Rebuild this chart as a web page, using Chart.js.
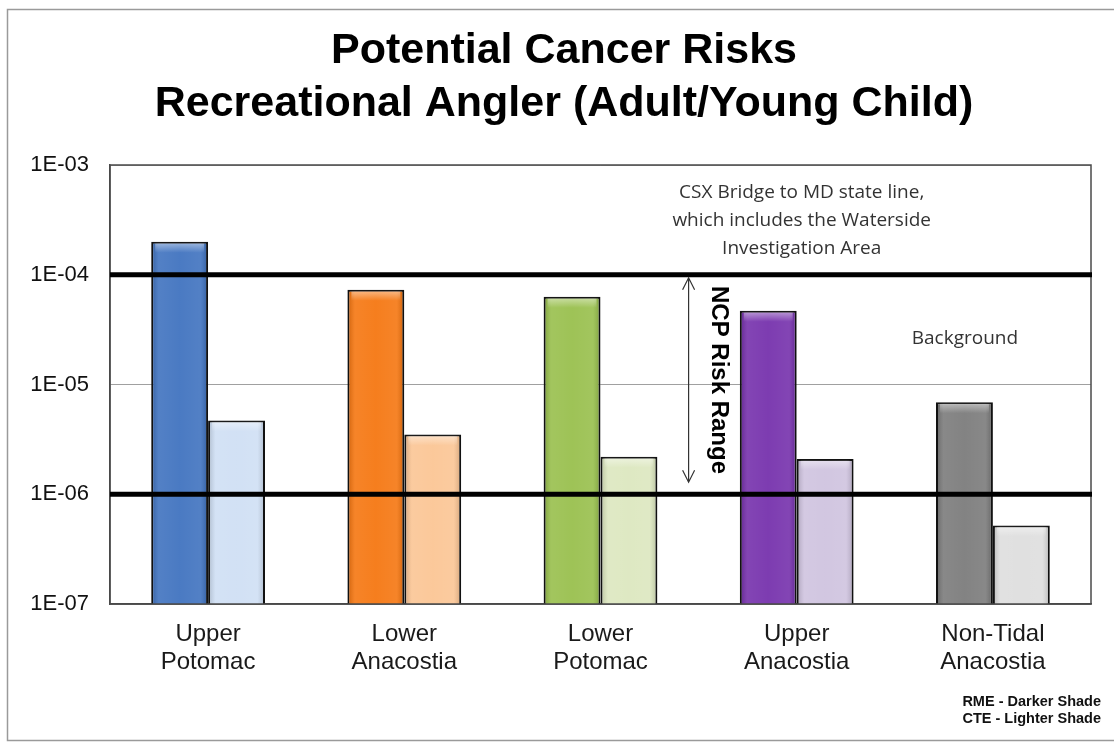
<!DOCTYPE html>
<html lang="en">
<head>
    <meta charset="UTF-8">
    <title>Potential Cancer Risks</title>
    <style>
        body { margin: 0; background: #fff; }
        #wrap { width: 1114px; height: 742px; }
    </style>
</head>
<body>
    <div id="wrap">
        <canvas id="riskChart" width="1114" height="742"></canvas>
    </div>

    <script src="https://cdn.jsdelivr.net/npm/chart.js"></script>

    <script>
        // Areas and risk estimates
        const areas = [
            ['Upper', 'Potomac'],
            ['Lower', 'Anacostia'],
            ['Lower', 'Potomac'],
            ['Upper', 'Anacostia'],
            ['Non-Tidal', 'Anacostia']
        ];
        const rmeRisk = [2.0e-4, 7.3e-5, 6.3e-5, 4.7e-5, 6.9e-6];   // darker shade
        const cteRisk = [4.7e-6, 3.5e-6, 2.2e-6, 2.1e-6, 5.2e-7];   // lighter shade

        const rmeColors = ['#3f72bf', '#f57610', '#98bf4c', '#7530ac', '#7b7b7b'];
        const cteColors = ['#cfdff4', '#fbc594', '#dce7bf', '#cfc3df', '#dedede'];

        // log axis, decades only
        const yTickValues = [1e-7, 1e-6, 1e-5, 1e-4, 1e-3];
        const yTickLabels = ['1E-07', '1E-06', '1E-05', '1E-04', '1E-03'];

        // NCP risk range limits
        const ncpUpper = 1e-4;
        const ncpLower = 1e-6;

        const titleLines = ['Potential Cancer Risks', 'Recreational Angler (Adult/Young Child)'];
        const csxNote = ['CSX Bridge to MD state line,', 'which includes the Waterside', 'Investigation Area'];
        const shadeNote = ['RME - Darker Shade', 'CTE - Lighter Shade'];

        // frame, title, plot border, risk range lines and notes
        const decorations = {
            id: 'decorations',
            beforeDraw(chart) {
                const ctx = chart.ctx;
                ctx.save();
                ctx.fillStyle = '#fff';
                ctx.fillRect(0, 0, chart.width, chart.height);
                ctx.strokeStyle = '#9a9a9a';
                ctx.lineWidth = 1.5;
                ctx.strokeRect(7.5, 9.5, chart.width + 20, chart.height - 11);

                ctx.fillStyle = '#000';
                ctx.font = 'bold 43px "Liberation Sans", Arial, sans-serif';
                ctx.textAlign = 'center';
                ctx.textBaseline = 'middle';
                titleLines.forEach((line, i) => ctx.fillText(line, 564, 51 + i * 53));
                ctx.restore();
            },
            afterDatasetsDraw(chart) {
                const ctx = chart.ctx;
                const area = chart.chartArea;
                const x = chart.scales.x;
                const y = chart.scales.y;

                // bevel shine on each bar
                ctx.save();
                chart.data.datasets.forEach((ds, i) => {
                    chart.getDatasetMeta(i).data.forEach(bar => {
                        const left = bar.x - bar.width / 2 + 1;
                        const w = bar.width - 2;
                        const top = bar.y + 1;
                        const h = bar.base - bar.y - 1;
                        const g = ctx.createLinearGradient(left, 0, left + w, 0);
                        g.addColorStop(0, 'rgba(0,0,0,0.14)');
                        g.addColorStop(0.12, 'rgba(255,255,255,0.10)');
                        g.addColorStop(0.5, 'rgba(255,255,255,0.06)');
                        g.addColorStop(0.88, 'rgba(255,255,255,0.10)');
                        g.addColorStop(1, 'rgba(0,0,0,0.14)');
                        ctx.fillStyle = g;
                        ctx.fillRect(left, top, w, h);
                        const cap = ctx.createLinearGradient(0, top, 0, top + 10);
                        cap.addColorStop(0, 'rgba(255,255,255,0.45)');
                        cap.addColorStop(1, 'rgba(255,255,255,0)');
                        ctx.fillStyle = cap;
                        ctx.fillRect(left + 3, top + 1, w - 6, 10);
                    });
                });
                ctx.restore();

                // plot border
                ctx.save();
                ctx.strokeStyle = '#4a4a4a';
                ctx.lineWidth = 1.5;
                ctx.strokeRect(area.left, area.top, area.right - area.left, area.bottom - area.top);

                // NCP range lines
                ctx.strokeStyle = '#000';
                ctx.lineWidth = 5;
                [ncpUpper, ncpLower].forEach(v => {
                    const py = y.getPixelForValue(v);
                    ctx.beginPath();
                    ctx.moveTo(area.left, py);
                    ctx.lineTo(area.right + 1, py);
                    ctx.stroke();
                });

                // double arrow between 3rd and 4th groups
                const mid = (x.getPixelForValue(2) + x.getPixelForValue(3)) / 2;
                const ax = mid - 10;
                const y1 = y.getPixelForValue(ncpUpper) + 3;
                const y2 = y.getPixelForValue(ncpLower) - 12;
                ctx.strokeStyle = '#333';
                ctx.lineWidth = 1.2;
                ctx.beginPath();
                ctx.moveTo(ax, y1);
                ctx.lineTo(ax, y2);
                ctx.moveTo(ax - 6, y1 + 12);
                ctx.lineTo(ax, y1);
                ctx.lineTo(ax + 6, y1 + 12);
                ctx.moveTo(ax - 6, y2 - 12);
                ctx.lineTo(ax, y2);
                ctx.lineTo(ax + 6, y2 - 12);
                ctx.stroke();

                // rotated range label
                ctx.save();
                ctx.translate(mid + 20, 380);
                ctx.rotate(Math.PI / 2);
                ctx.fillStyle = '#000';
                ctx.font = 'bold 24px "Liberation Sans", Arial, sans-serif';
                ctx.textAlign = 'center';
                ctx.textBaseline = 'middle';
                ctx.fillText('NCP Risk Range', 0, 0);
                ctx.restore();

                // area notes
                ctx.fillStyle = '#333';
                ctx.font = '19px "Open Sans", sans-serif';
                ctx.textAlign = 'center';
                ctx.textBaseline = 'middle';
                const csxX = x.getPixelForValue(3) + 5;
                csxNote.forEach((line, i) => ctx.fillText(line, csxX, 193 + i * 28));
                ctx.fillText('Background', x.getPixelForValue(4) - 28, 339);

                ctx.fillStyle = '#111';
                ctx.font = 'bold 14.5px "Liberation Sans", Arial, sans-serif';
                ctx.textAlign = 'right';
                shadeNote.forEach((line, i) => ctx.fillText(line, 1101, 702 + i * 17));
                ctx.restore();
            }
        };

        const ctx = document.getElementById('riskChart').getContext('2d');
        const chart = new Chart(ctx, {
            type: 'bar',
            data: {
                labels: areas,
                datasets: [
                    {
                        label: 'RME',
                        data: rmeRisk,
                        backgroundColor: rmeColors,
                        borderColor: '#111',
                        borderWidth: 2,
                        categoryPercentage: 0.58,
                        barPercentage: 1.0
                    },
                    {
                        label: 'CTE',
                        data: cteRisk,
                        backgroundColor: cteColors,
                        borderColor: '#111',
                        borderWidth: 2,
                        categoryPercentage: 0.58,
                        barPercentage: 1.0
                    }
                ]
            },
            options: {
                responsive: false,
                animation: false,
                layout: { padding: { left: 0, right: 23, top: 165, bottom: 0 } },
                plugins: {
                    legend: { display: false },
                    tooltip: { enabled: false },
                    title: { display: false }
                },
                scales: {
                    x: {
                        grid: { display: false, drawTicks: false },
                        border: { display: true, color: '#4a4a4a', width: 1.5 },
                        ticks: {
                            color: '#1a1a1a',
                            padding: 16,
                            maxRotation: 0,
                            font: { family: '"Liberation Sans", Arial, sans-serif', size: 24, lineHeight: 1.17 }
                        },
                        afterFit(scale) { scale.height = 138; }
                    },
                    y: {
                        type: 'logarithmic',
                        min: 1e-7,
                        max: 1e-3,
                        afterBuildTicks(scale) {
                            scale.ticks = yTickValues.map(v => ({ value: v }));
                        },
                        afterFit(scale) { scale.width = 110; },
                        grid: { color: '#a0a0a0', lineWidth: 1, drawTicks: false },
                        border: { display: true, color: '#4a4a4a', width: 1.5 },
                        ticks: {
                            color: '#111',
                            padding: 21,
                            font: { family: '"Liberation Sans", Arial, sans-serif', size: 22 },
                            callback: (value) => yTickLabels[yTickValues.indexOf(value)] ?? ''
                        }
                    }
                }
            },
            plugins: [decorations]
        });
    </script>
</body>
</html>
